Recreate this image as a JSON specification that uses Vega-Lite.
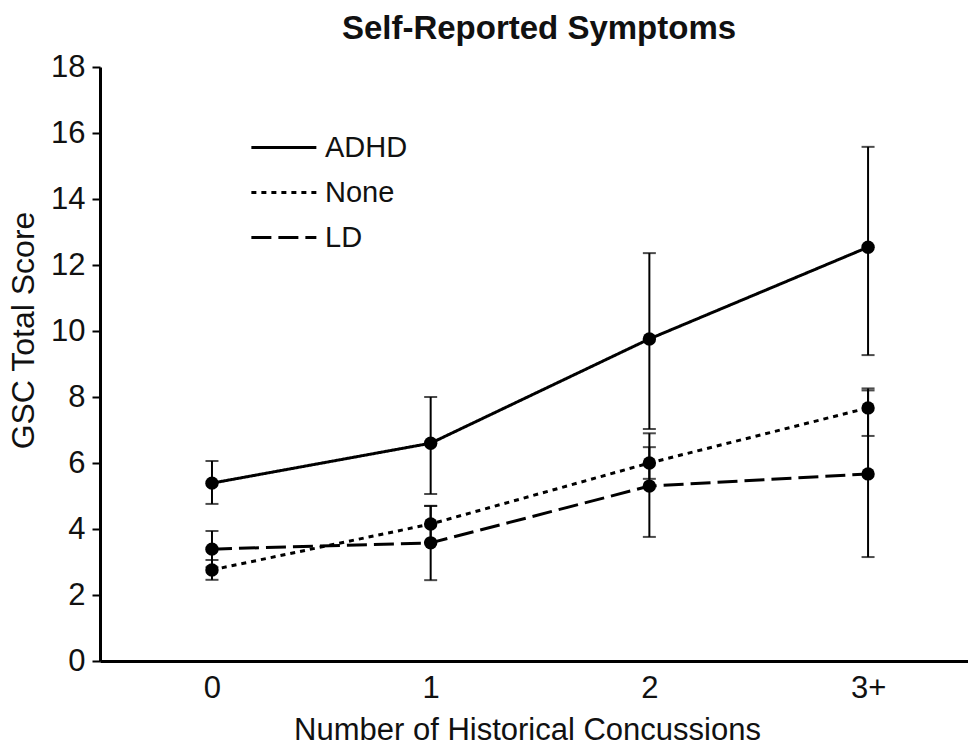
{
  "$schema": "https://vega.github.io/schema/vega-lite/v6.json",
  "autosize": "none",
  "width": 868,
  "height": 594,
  "padding": {"left": 100, "top": 67, "right": 0, "bottom": 93},
  "background": "white",
  "config": {
    "font": "Liberation Sans",
    "view": {"stroke": null}
  },
  "title": {
    "text": "Self-Reported Symptoms",
    "font": "Liberation Sans",
    "fontSize": 33,
    "fontWeight": "bold",
    "color": "#111",
    "anchor": "middle",
    "frame": "group",
    "dx": 5,
    "offset": 5
  },
  "data": {
    "values": [
      {"group": "ADHD", "x": 0, "mean": 5.39, "lo": 4.76, "hi": 6.06},
      {"group": "ADHD", "x": 1, "mean": 6.6, "lo": 5.06, "hi": 8.0},
      {"group": "ADHD", "x": 2, "mean": 9.76, "lo": 7.03, "hi": 12.36},
      {"group": "ADHD", "x": 3, "mean": 12.54, "lo": 9.27, "hi": 15.58},
      {"group": "None", "x": 0, "mean": 2.76, "lo": 2.46, "hi": 3.06},
      {"group": "None", "x": 1, "mean": 4.15, "lo": 3.6, "hi": 4.7},
      {"group": "None", "x": 2, "mean": 6.0, "lo": 5.52, "hi": 6.48},
      {"group": "None", "x": 3, "mean": 7.67, "lo": 6.82, "hi": 8.26},
      {"group": "LD", "x": 0, "mean": 3.39, "lo": 2.84, "hi": 3.94},
      {"group": "LD", "x": 1, "mean": 3.58, "lo": 2.45, "hi": 4.7},
      {"group": "LD", "x": 2, "mean": 5.3, "lo": 3.76, "hi": 6.9},
      {"group": "LD", "x": 3, "mean": 5.67, "lo": 3.15, "hi": 8.2}
    ]
  },
  "encoding": {
    "x": {
      "field": "x",
      "type": "quantitative",
      "scale": {"domain": [-0.512, 3.457], "nice": false, "zero": false},
      "axis": {
        "values": [0, 1, 2, 3],
        "labelExpr": "datum.value == 3 ? '3+' : datum.label",
        "title": "Number of Historical Concussions",
        "grid": false,
        "ticks": false,
        "domainColor": "#000",
        "domainWidth": 3,
        "labelFontSize": 31,
        "labelColor": "#111",
        "labelPadding": 12,
        "titleFontSize": 31,
        "titleFontWeight": "normal",
        "titleColor": "#111",
        "titlePadding": 12,
        "titleX": 427
      }
    }
  },
  "layer": [
    {
      "mark": {"type": "errorbar", "ticks": {"size": 13, "thickness": 2, "color": "#000"}, "rule": {"strokeWidth": 2, "color": "#000"}},
      "encoding": {
        "y": {
          "field": "lo",
          "type": "quantitative",
          "scale": {"domain": [0, 18], "nice": false},
          "axis": {
            "values": [0, 2, 4, 6, 8, 10, 12, 14, 16, 18],
            "title": "GSC Total Score",
            "grid": false,
            "tickSize": 8,
            "tickWidth": 2,
            "tickColor": "#000",
            "domainColor": "#000",
            "domainWidth": 3,
            "labelFontSize": 31,
            "labelColor": "#111",
            "labelPadding": 7,
            "titleFontSize": 32,
            "titleFontWeight": "normal",
            "titleColor": "#111",
            "titlePadding": 10,
            "titleY": 263
          }
        },
        "y2": {"field": "hi"},
        "detail": {"field": "group"}
      }
    },
    {
      "mark": {"type": "line", "color": "#000", "strokeWidth": 3},
      "encoding": {
        "y": {"field": "mean", "type": "quantitative"},
        "strokeDash": {
          "field": "group",
          "type": "nominal",
          "scale": {"domain": ["ADHD", "None", "LD"], "range": [[1, 0], [5, 5], [20, 7]]},
          "legend": {
            "title": null,
            "orient": "none",
            "legendX": 145,
            "legendY": 66,
            "symbolType": "M-1,0H7",
            "symbolSize": 264,
            "symbolStrokeWidth": 3,
            "symbolStrokeColor": "#000",
            "labelFontSize": 29,
            "labelColor": "#111",
            "labelOffset": 51,
            "rowPadding": 15
          }
        }
      }
    },
    {
      "mark": {"type": "point", "filled": true, "color": "#000", "opacity": 1, "size": 180},
      "encoding": {
        "y": {"field": "mean", "type": "quantitative"}
      }
    }
  ]
}
